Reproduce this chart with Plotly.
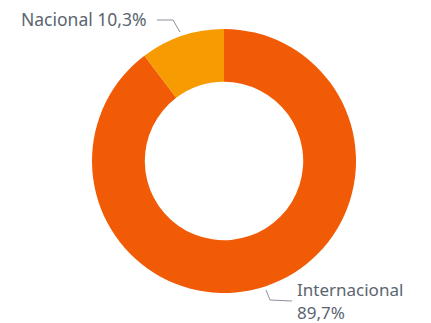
import plotly.graph_objects as go

labels = ["Internacional", "Nacional"]
values = [89.7, 10.3]
label_names = ["Internacional", "Nacional"]
label_pcts = ["89,7%", "10,3%"]
colors = ["#F25B05", "#F79B03"]

W, H = 431, 323
TXT = "#5B6570"


def px(x, y):
    # pixel -> paper coords
    return x / W, 1 - y / H


fig = go.Figure(go.Pie(
    labels=labels,
    values=values,
    hole=0.6,
    sort=False,
    direction="clockwise",
    rotation=0,
    marker=dict(colors=colors, line=dict(width=0)),
    textinfo="none",
    hoverinfo="label+percent",
    domain=dict(x=[(224 - 132) / W, (224 + 132) / W],
                y=[(162 - 132) / H, (162 + 132) / H]),
    showlegend=False,
))

# leader lines
lines = [
    [(157, 20), (173, 20), (180, 32)],
    [(266, 290), (270, 300), (292, 301)],
]
for pts in lines:
    path = ""
    for i, (x, y) in enumerate(pts):
        X, Y = px(x, y)
        path += ("M" if i == 0 else "L") + f" {X} {Y} "
    fig.add_shape(type="path", path=path, xref="paper", yref="paper",
                  line=dict(color="#8A9299", width=1))

x0, y0 = px(149, 19)
fig.add_annotation(x=x0, y=y0, xref="paper", yref="paper",
                   text=f"{label_names[1]} {label_pcts[1]}",
                   xanchor="right", yanchor="middle", showarrow=False,
                   font=dict(size=17.5, color=TXT))
x1, y1 = px(296, 289)
fig.add_annotation(x=x1, y=y1, xref="paper", yref="paper", text=label_names[0],
                   xanchor="left", yanchor="middle", showarrow=False, borderpad=0,
                   font=dict(size=17, color=TXT))
x2, y2 = px(296, 312)
fig.add_annotation(x=x2, y=y2, xref="paper", yref="paper", text=label_pcts[0],
                   xanchor="left", yanchor="middle", showarrow=False, borderpad=0,
                   font=dict(size=17, color=TXT))

fig.update_layout(
    width=W, height=H,
    margin=dict(l=0, r=0, t=0, b=0),
    paper_bgcolor="white",
    plot_bgcolor="white",
    font=dict(family="Noto Sans, sans-serif"),
)

fig.write_html("out.html", config={"displayModeBar": False},
               post_script="document.body.style.margin='0';")
